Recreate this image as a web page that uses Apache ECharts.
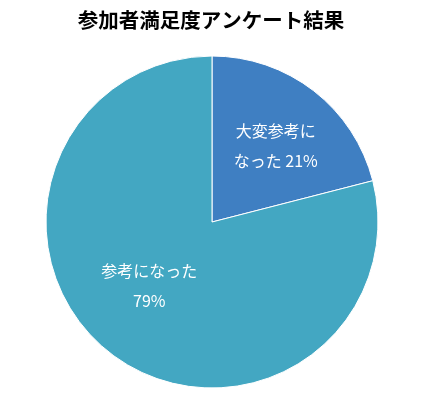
<!DOCTYPE html>
<html>
<head>
<meta charset="utf-8">
<script src="https://cdn.jsdelivr.net/npm/echarts@6/dist/echarts.min.js"></script>
<style>html,body{margin:0;padding:0;background:#fff}#c{width:422px;height:395px}</style>
</head>
<body>
<div id="c"></div>
<script>
const categories = ["大変参考に\nなった", "参考になった\n"];
const values = [21, 79];
const colors = ["#3F7FC2", "#43A7C2"];
const labelPads = [[0, 0, 0, 22], [0, 20, 0, 0]];
const labelLift = [16, 8];

const chart = echarts.init(document.getElementById('c'), null, {renderer: 'canvas'});
chart.setOption({
  animation: false,
  title: {
    text: '参加者満足度アンケート結果',
    left: 'center',
    top: 5,
    textStyle: {fontFamily: 'Noto Sans CJK JP', fontSize: 20.5, fontWeight: 'bold', color: '#000'}
  },
  series: [{
    type: 'pie',
    center: [212, 222],
    radius: [0, 166],
    startAngle: 90,
    clockwise: true,
    data: categories.map((c, i) => ({
      name: c, value: values[i],
      itemStyle: {color: colors[i]},
      label: {padding: labelPads[i], rich: {s: {height: labelLift[i], lineHeight: labelLift[i], fontSize: 1}}}
    })),
    itemStyle: {borderColor: '#fff', borderWidth: 1},
    label: {
      show: true,
      position: 'inside',
      formatter: p => {
        const txt = p.name + (p.name.endsWith('\n') ? '' : ' ') + p.value + '%';
        return txt.split('\n').map(l => '{t|' + l + '}').join('\n') + '\n{s|}';
      },
      color: '#fff',
      fontFamily: 'Noto Sans CJK JP',
      fontSize: 16,
      lineHeight: 30,
      rich: {t: {color: '#fff', fontFamily: 'Noto Sans CJK JP', fontSize: 16, lineHeight: 30}}
    },
    labelLine: {show: false}
  }]
});
</script>
</body>
</html>
